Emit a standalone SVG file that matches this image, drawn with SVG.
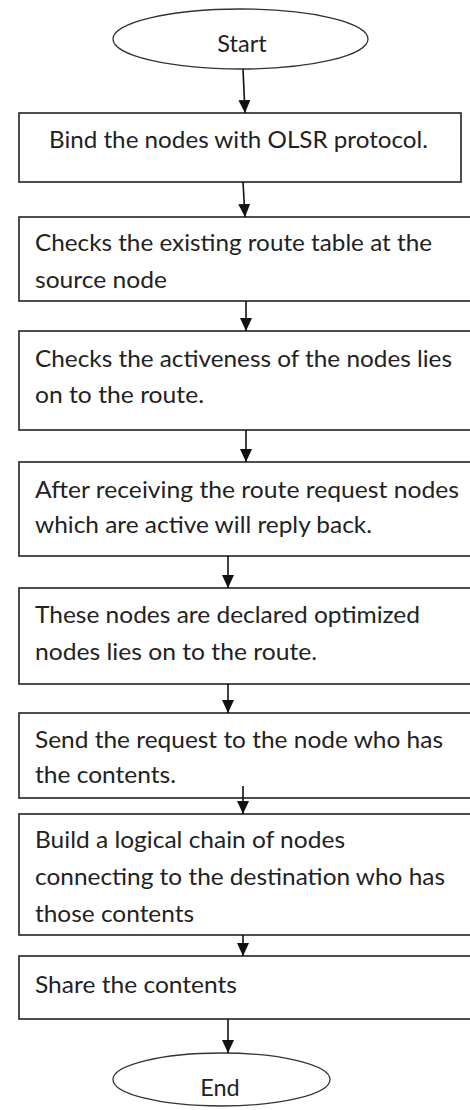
<svg xmlns="http://www.w3.org/2000/svg" width="470" height="1110" viewBox="0 0 470 1110">
  <style>
    .box { fill: #ffffff; stroke: #222222; stroke-width: 1.6; }
    .term { fill: #ffffff; stroke: #333333; stroke-width: 1.3; }
    .lbl { font-family: Lato, "Liberation Sans", sans-serif; font-size: 23.5px; fill: #222222; }
    .mid { text-anchor: middle; }
    .edge { stroke: #111111; stroke-width: 1.6; fill: none; marker-end: url(#head); }
  </style>
  <defs>
    <marker id="head" markerUnits="userSpaceOnUse" markerWidth="13" markerHeight="12" refX="13" refY="6" orient="auto">
      <path d="M0,0 L13,6 L0,12 Z" fill="#111111"/>
    </marker>
  </defs>

  <rect width="470" height="1110" fill="#ffffff"/>

  <!-- terminal: start -->
  <g id="start">
    <ellipse class="term" cx="240.5" cy="39" rx="127.5" ry="30"/>
    <text class="lbl mid" x="242" y="52">Start</text>
  </g>

  <!-- process steps -->
  <g id="bind">
    <rect class="box" x="19" y="113" width="442" height="69"/>
    <text class="lbl" x="49" y="148" textLength="379" lengthAdjust="spacingAndGlyphs">Bind the nodes with OLSR protocol.</text>
  </g>

  <g id="check-table">
    <rect class="box" x="19" y="217" width="455" height="84"/>
    <text class="lbl" x="35" y="251" textLength="397" lengthAdjust="spacingAndGlyphs">Checks the existing route table at the</text>
    <text class="lbl" x="35" y="288" textLength="132" lengthAdjust="spacingAndGlyphs">source node</text>
  </g>

  <g id="check-active">
    <rect class="box" x="19" y="331" width="455" height="99"/>
    <text class="lbl" x="35" y="367" textLength="417" lengthAdjust="spacingAndGlyphs">Checks the activeness of the nodes lies</text>
    <text class="lbl" x="35" y="403" textLength="169" lengthAdjust="spacingAndGlyphs">on to the route.</text>
  </g>

  <g id="reply">
    <rect class="box" x="19" y="462" width="455" height="94"/>
    <text class="lbl" x="35" y="498" textLength="424" lengthAdjust="spacingAndGlyphs">After receiving the route request nodes</text>
    <text class="lbl" x="35" y="533" textLength="337" lengthAdjust="spacingAndGlyphs">which are active will reply back.</text>
  </g>

  <g id="optimized">
    <rect class="box" x="19" y="588" width="455" height="96"/>
    <text class="lbl" x="35" y="623" textLength="385" lengthAdjust="spacingAndGlyphs">These nodes are declared optimized</text>
    <text class="lbl" x="35" y="660" textLength="282" lengthAdjust="spacingAndGlyphs">nodes lies on to the route.</text>
  </g>

  <g id="send-request">
    <rect class="box" x="19" y="713" width="455" height="85"/>
    <text class="lbl" x="35" y="748" textLength="408" lengthAdjust="spacingAndGlyphs">Send the request to the node who has</text>
    <text class="lbl" x="35" y="783" textLength="141" lengthAdjust="spacingAndGlyphs">the contents.</text>
  </g>

  <g id="build-chain">
    <rect class="box" x="19" y="814" width="455" height="121"/>
    <text class="lbl" x="35" y="848" textLength="310" lengthAdjust="spacingAndGlyphs">Build a logical chain of nodes</text>
    <text class="lbl" x="35" y="885" textLength="410" lengthAdjust="spacingAndGlyphs">connecting to the destination who has</text>
    <text class="lbl" x="35" y="922" textLength="159" lengthAdjust="spacingAndGlyphs">those contents</text>
  </g>

  <g id="share">
    <rect class="box" x="19" y="956" width="455" height="63"/>
    <text class="lbl" x="35" y="993" textLength="202" lengthAdjust="spacingAndGlyphs">Share the contents</text>
  </g>

  <!-- terminal: end -->
  <g id="end">
    <ellipse class="term" cx="221.5" cy="1079.5" rx="108.5" ry="26.5"/>
    <text class="lbl mid" x="220" y="1096">End</text>
  </g>

  <!-- connectors -->
  <g id="connectors">
    <line class="edge" x1="243" y1="69" x2="245" y2="113"/>
    <line class="edge" x1="243" y1="182" x2="245" y2="217"/>
    <line class="edge" x1="246" y1="301" x2="246" y2="331"/>
    <line class="edge" x1="246" y1="430" x2="246" y2="462"/>
    <line class="edge" x1="228" y1="556" x2="228" y2="588"/>
    <line class="edge" x1="228" y1="684" x2="228" y2="713"/>
    <line class="edge" x1="243" y1="786" x2="243" y2="814"/>
    <line class="edge" x1="243" y1="935" x2="243" y2="956"/>
    <line class="edge" x1="228" y1="1019" x2="228" y2="1053"/>
  </g>
</svg>
